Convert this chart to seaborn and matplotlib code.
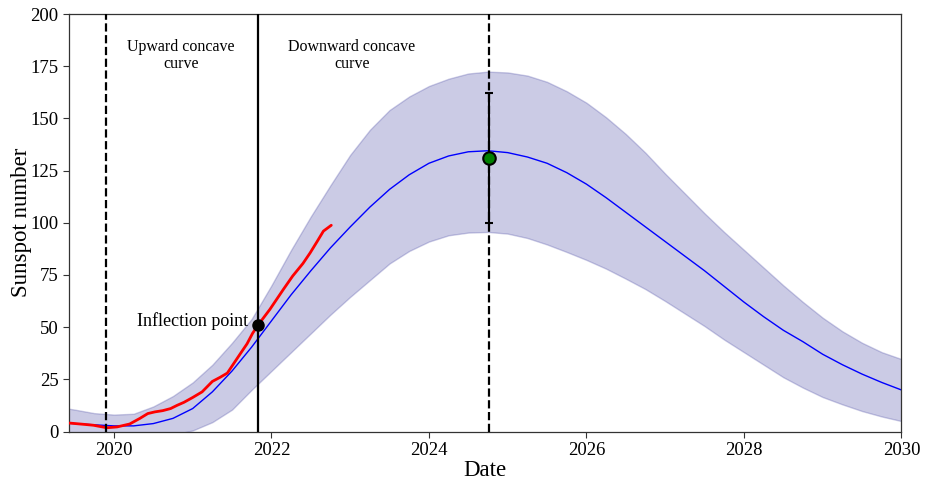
import numpy as np
import pandas as pd
import matplotlib
matplotlib.use("Agg")
import matplotlib.pyplot as plt
import seaborn as sns

# ---------------- data ----------------
years = [2019.25, 2019.50, 2019.75, 2020.00, 2020.25, 2020.50, 2020.75, 2021.00,
         2021.25, 2021.50, 2021.75, 2022.00, 2022.25, 2022.50, 2022.75, 2023.00,
         2023.25, 2023.50, 2023.75, 2024.00, 2024.25, 2024.50, 2024.75, 2025.00,
         2025.25, 2025.50, 2025.75, 2026.00, 2026.25, 2026.50, 2026.75, 2027.00,
         2027.25, 2027.50, 2027.75, 2028.00, 2028.25, 2028.50, 2028.75, 2029.00,
         2029.25, 2029.50, 2029.75, 2030.00]

predicted = [4.3, 3.8, 3.2, 2.7, 2.7, 3.8, 6.3, 11.0,
             19.0, 29.0, 40.5, 53.0, 65.5, 77.0, 88.0, 98.0,
             107.5, 116.0, 123.0, 128.5, 132.0, 134.0, 134.5, 133.6,
             131.5, 128.5, 124.0, 118.5, 112.0, 105.0, 98.0, 91.0,
             84.0, 77.0, 69.5, 62.0, 55.0, 48.5, 43.0, 37.0,
             32.0, 27.5, 23.5, 19.9]

upper = [12.0, 10.5, 8.8, 8.1, 8.5, 12.0, 17.0, 23.5,
         32.0, 42.5, 54.0, 70.0, 87.0, 103.0, 118.0, 132.5,
         144.5, 154.0, 160.5, 165.5, 169.0, 171.5, 172.4, 172.0,
         170.5, 167.5, 163.0, 157.5, 150.5, 142.5, 133.5, 123.5,
         114.0, 104.5, 95.5, 87.0, 78.5, 70.0, 62.0, 54.5,
         48.0, 42.5, 38.0, 34.7]

lower = [0.0, -2.0, -4.0, -5.0, -5.0, -3.5, -1.5, 0.5,
         4.5, 10.5, 20.0, 29.0, 38.0, 47.0, 56.0, 64.5,
         72.5, 80.5, 86.5, 91.0, 94.0, 95.3, 95.6, 94.8,
         92.7, 89.6, 86.0, 82.2, 78.0, 73.2, 68.2, 62.5,
         56.5, 50.5, 44.0, 38.0, 32.0, 26.0, 21.0, 16.5,
         13.0, 9.8, 7.2, 5.0]

obs_years = [2019.30, 2019.45, 2019.60, 2019.74, 2019.91, 2020.04, 2020.20, 2020.33,
             2020.43, 2020.52, 2020.62, 2020.72, 2020.80, 2020.89, 2021.00, 2021.12,
             2021.25, 2021.35, 2021.44, 2021.52, 2021.60, 2021.69, 2021.76, 2021.83,
             2021.98, 2022.15, 2022.27, 2022.40, 2022.49, 2022.58, 2022.66, 2022.76]
observed = [4.3, 4.0, 3.5, 3.0, 1.8, 2.2, 3.6, 6.3,
            8.6, 9.4, 10.0, 11.0, 12.5, 14.0, 16.3, 19.0,
            24.0, 26.0, 28.0, 32.5, 37.0, 42.0, 47.0, 51.0,
            58.5, 68.0, 74.5, 80.5, 85.5, 91.0, 96.0, 98.8]

minimum_date = 2019.90
inflection_date = 2021.83
inflection_value = 51.0
peak_date = 2024.76
peak_value = 131.0
peak_err_low = 31.0
peak_err_high = 31.0

# ---------------- plotting ----------------
sns.set_style("ticks")
plt.rcParams["font.family"] = ["Liberation Serif", "DejaVu Serif"]
plt.rcParams["mathtext.fontset"] = "stix"
for key in ["text.color", "axes.labelcolor", "xtick.color", "ytick.color"]:
    plt.rcParams[key] = "black"

fig, ax = plt.subplots(figsize=(9.28, 4.83), dpi=100)
fig.subplots_adjust(left=0.0744, right=0.9714, bottom=0.1066, top=0.971)

df_pred = pd.DataFrame({"Date": years, "pred": predicted, "up": upper, "lo": lower})
df_obs = pd.DataFrame({"Date": obs_years, "obs": observed})

ax.fill_between(df_pred["Date"], df_pred["lo"], df_pred["up"],
                color=(0.2, 0.2, 0.6), alpha=0.25, lw=1, zorder=1)
sns.lineplot(data=df_pred, x="Date", y="pred", ax=ax, color="blue",
             lw=1, estimator=None, sort=False, zorder=2)
sns.lineplot(data=df_obs, x="Date", y="obs", ax=ax, color="red",
             lw=2, estimator=None, sort=False, zorder=3)

ax.axvline(minimum_date, color="black", ls="--", lw=1.6, zorder=4)
ax.axvline(inflection_date, color="black", ls="-", lw=1.6, zorder=4)
ax.axvline(peak_date, color="black", ls="--", lw=1.6, zorder=4)

ax.plot([inflection_date], [inflection_value], "o", color="black",
        ms=8, zorder=6)
ax.errorbar([peak_date], [peak_value], yerr=[[peak_err_low], [peak_err_high]],
            fmt="o", color="black", ecolor="black", mfc="green", mec="black",
            mew=1.5, ms=9, elinewidth=1.5, capsize=3, capthick=1.5, zorder=6)

ax.text(2021.70, 53, "Inflection point", ha="right", va="center", fontsize=13)
ax.text(2020.85, 180, "Upward concave\ncurve", ha="center", va="center",
        fontsize=11.5, linespacing=1.05)
ax.text(2023.02, 180, "Downward concave\ncurve", ha="center", va="center",
        fontsize=11.5, linespacing=1.05)

ax.set_xlim(2019.43, 2030)
ax.set_ylim(0, 200)
ax.set_xticks([2020, 2022, 2024, 2026, 2028, 2030])
ax.set_yticks([0, 25, 50, 75, 100, 125, 150, 175, 200])
ax.tick_params(labelsize=13.5, direction="out", length=4, width=0.8,
               color="#333333", labelcolor="black")
ax.set_xlabel("Date", fontsize=16.5, labelpad=1)
ax.set_ylabel("Sunspot number", fontsize=16.5, labelpad=-1)
for s in ax.spines.values():
    s.set_visible(True)
    s.set_color("#333333")
    s.set_linewidth(0.9)

fig.savefig("out.png", dpi=100)
